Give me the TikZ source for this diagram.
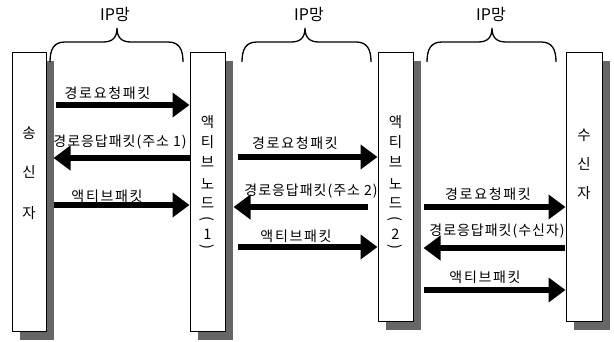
\documentclass[tikz,border=0pt]{standalone}
\usepackage{fontspec}
\setmainfont{Noto Sans CJK KR}
\newfontfamily\lblfont[LetterSpace=12]{Noto Sans CJK KR}
\newfontfamily\lbltight[LetterSpace=7]{Noto Sans CJK KR}
\usetikzlibrary{arrows.meta,shadows}
\newcommand\ipbrace[3]{%
  \draw[line width=1.3pt] (#1,62) .. controls (#1,49) and (#1+4,42) .. (#1+15,42)
    -- (#2-14,42) .. controls (#2-5,42) and (#2,38) .. (#2,28)
    .. controls (#2,38) and (#2+5,42) .. (#2+14,42)
    -- (#3-15,42) .. controls (#3-4,42) and (#3,49) .. (#3,62);}
\begin{document}
\begin{tikzpicture}[x=1pt,y=-1pt,
  box/.style={draw, line width=1pt, fill=white, inner sep=0pt,
    drop shadow={shadow xshift=7.5pt, shadow yshift=-9pt, fill=black!60, opacity=1}},
  lbl/.style={font=\lblfont\fontsize{14}{16}\selectfont, inner sep=0pt},
  lbllong/.style={font=\lbltight\fontsize{14}{16}\selectfont, inner sep=0pt},
  vch/.style={font=\fontsize{14.5}{16}\selectfont, inner sep=0pt},
  iplbl/.style={font=\fontsize{16}{18}\selectfont, inner sep=0pt},
  bigarrow/.style={line width=6pt, -{Triangle[length=17pt,width=24pt]}}]
\useasboundingbox (0,0) rectangle (614,341);
\fill[white] (0,0) rectangle (614,341);

% boxes
\node[box, minimum width=34pt, minimum height=279pt] (snd) at (29,191.5) {};
\node[box, minimum width=35pt, minimum height=279pt] (n1) at (207.5,191.5) {};
\node[box, minimum width=35pt, minimum height=269pt] (n2) at (395.5,186.5) {};
\node[box, minimum width=36pt, minimum height=269pt] (rcv) at (584,186.5) {};

% braces and IP labels
\ipbrace{50}{117}{183}
\ipbrace{242}{305}{371}
\ipbrace{427}{492}{556}
\node[iplbl] (ip1) at (115,14) {IP망};
\node[iplbl] (ip2) at (309,14) {IP망};
\node[iplbl] (ip3) at (491,14) {IP망};

% vertical texts
\node[vch] (s1) at (29,133) {송};
\node[vch] (s2) at (29,172) {신};
\node[vch] (s3) at (29,213) {자};
\node[vch] (r1) at (584,135) {수};
\node[vch] (r2) at (584,164) {신};
\node[vch] (r3) at (584,193) {자};
\foreach \nx/\nm/\num in {207.5/a/1, 395.5/b/2}{
  \node[vch] (\nm1) at (\nx,122) {액};
  \node[vch] (\nm2) at (\nx,142) {티};
  \node[vch] (\nm3) at (\nx,162) {브};
  \node[vch] (\nm4) at (\nx,184) {노};
  \node[vch] (\nm5) at (\nx,203) {드};
  \node[vch] (\nm6) at (\nx,219) {\rotatebox{-90}{(}};
  \node[vch] (\nm7) at (\nx,234) {\num};
  \node[vch] (\nm8) at (\nx,247) {\rotatebox{-90}{)}};
}

% left section
\draw[bigarrow, shorten <=9pt] (snd.east |- 0,105) -- (n1.west |- 0,105);
\draw[bigarrow, shorten >=7pt] (n1.west |- 0,158) -- (snd.east |- 0,158);
\draw[bigarrow, shorten <=7pt] (snd.east |- 0,205) -- (n1.west |- 0,205);
\node[lbl] (l1) at (107.5,93) {경로요청패킷};
\node[lbllong] (l2) at (120,142) {경로응답패킷(주소 1)};
\node[lbl] (l3) at (107,196) {액티브패킷};

% middle section
\draw[bigarrow, shorten <=12pt] (n1.east |- 0,157) -- (n2.west |- 0,157);
\draw[bigarrow, shorten <=10pt, shorten >=8pt] (n2.west |- 0,207) -- (n1.east |- 0,207);
\draw[bigarrow, shorten <=12pt] (n1.east |- 0,247) -- (n2.west |- 0,247);
\node[lbl] (m1) at (295,143) {경로요청패킷};
\node[lbllong] (m2) at (311,191) {경로응답패킷(주소 2)};
\node[lbl] (m3) at (296,236) {액티브패킷};

% right section
\draw[bigarrow, shorten <=10pt] (n2.east |- 0,207) -- (rcv.west |- 0,207);
\draw[bigarrow, shorten <=1pt, shorten >=10pt] (rcv.west |- 0,248) -- (n2.east |- 0,248);
\draw[bigarrow, shorten <=10pt] (n2.east |- 0,290) -- (rcv.west |- 0,290);
\node[lbl] (q1) at (488,194) {경로요청패킷};
\node[lbllong] (q2) at (497,231) {경로응답패킷(수신자)};
\node[lbl] (q3) at (485,277) {액티브패킷};
\end{tikzpicture}
\end{document}
